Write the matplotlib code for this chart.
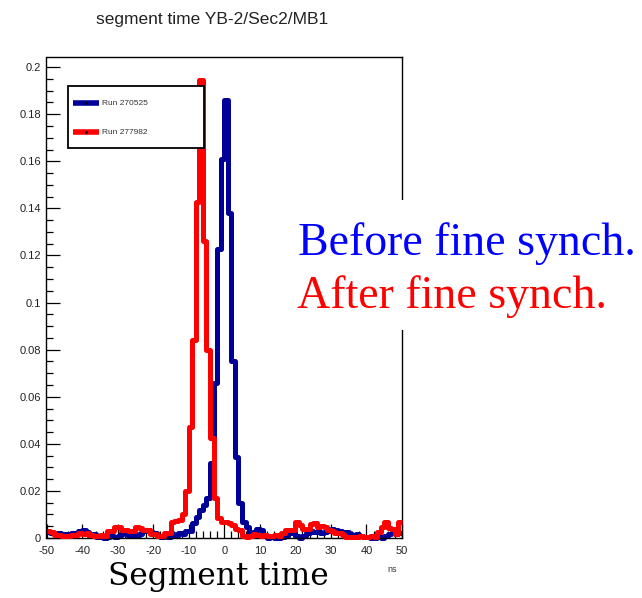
import numpy as np
import matplotlib
matplotlib.use("Agg")
import matplotlib.pyplot as plt
from matplotlib.patches import Rectangle
from matplotlib.ticker import MultipleLocator, FuncFormatter

# ── Histogram contents (segment time, YB-2/Sec2/MB1), 1 ns bins ──────────────
EDGES = np.arange(-50, 51, 1)

RUN_BEFORE = "Run 270525"
RUN_AFTER = "Run 277982"

# before fine synch., bins [-50,-49) ... [49,50)
before = [
    0.0025, 0.0020, 0.0015, 0.0020, 0.0010, 0.0015, 0.0010, 0.0020, 0.0020, 0.0030,   # -50..-41
    0.0035, 0.0025, 0.0010, 0.0015, 0.0005, 0.0010, 0.0000, 0.0005, 0.0010, 0.0005,   # -40..-31
    0.0010, 0.0020, 0.0015, 0.0010, 0.0020, 0.0010, 0.0015, 0.0030, 0.0035, 0.0025,   # -30..-21
    0.0020, 0.0010, 0.0005, 0.0010, 0.0005, 0.0015, 0.0010, 0.0020, 0.0017, 0.0030,   # -20..-11
    0.0030, 0.0065, 0.0090, 0.0120, 0.0140, 0.0170, 0.0320, 0.0660, 0.1226, 0.1610,   # -10..-1
    0.1860, 0.1380, 0.0750, 0.0346, 0.0150, 0.0070, 0.0045, 0.0020, 0.0025, 0.0040,   #   0..9
    0.0035, 0.0010, 0.0000, 0.0005, 0.0000, 0.0000, 0.0005, 0.0010, 0.0020, 0.0025,   #  10..19
    0.0010, 0.0000, 0.0010, 0.0020, 0.0030, 0.0025, 0.0030, 0.0020, 0.0025, 0.0030,   #  20..29
    0.0040, 0.0035, 0.0030, 0.0025, 0.0025, 0.0015, 0.0010, 0.0015, 0.0010, 0.0005,   #  30..39
    0.0005, 0.0000, 0.0000, 0.0005, 0.0000, 0.0010, 0.0015, 0.0020, 0.0015, 0.0020,   #  40..49
]

# after fine synch.
after = [
    0.0030, 0.0025, 0.0012, 0.0013, 0.0008, 0.0010, 0.0008, 0.0013, 0.0012, 0.0020,   # -50..-41
    0.0018, 0.0021, 0.0012, 0.0010, 0.0010, 0.0012, 0.0010, 0.0028, 0.0030, 0.0048,   # -40..-31
    0.0045, 0.0034, 0.0034, 0.0028, 0.0030, 0.0045, 0.0042, 0.0034, 0.0034, 0.0017,   # -30..-21
    0.0017, 0.0007, 0.0009, 0.0020, 0.0020, 0.0068, 0.0072, 0.0075, 0.0100, 0.0200,   # -20..-11
    0.0470, 0.0840, 0.1426, 0.1946, 0.1260, 0.0800, 0.0426, 0.0170, 0.0085, 0.0068,   # -10..-1
    0.0068, 0.0062, 0.0055, 0.0040, 0.0035, 0.0010, 0.0005, 0.0010, 0.0015, 0.0012,   #   0..9
    0.0010, 0.0012, 0.0008, 0.0010, 0.0012, 0.0010, 0.0020, 0.0034, 0.0034, 0.0035,   #  10..19
    0.0070, 0.0055, 0.0040, 0.0040, 0.0060, 0.0065, 0.0048, 0.0050, 0.0045, 0.0034,   #  20..29
    0.0030, 0.0020, 0.0020, 0.0012, 0.0006, 0.0006, 0.0006, 0.0006, 0.0008, 0.0006,   #  30..39
    0.0006, 0.0008, 0.0006, 0.0027, 0.0045, 0.0070, 0.0042, 0.0040, 0.0015, 0.0070,   #  40..49
]

BLUE_H = "#000099"
RED_H = "#ff0000"
LW_H = 3.6

plt.rcParams["axes.unicode_minus"] = False
plt.rcParams["font.family"] = ["Liberation Sans", "DejaVu Sans"]

W, H = 642, 598
fig = plt.figure(figsize=(W / 100, H / 100), dpi=100)
ax = fig.add_axes([46.5 / W, 60 / H, 355.5 / W, 481 / H])

ax.stairs(before, EDGES, baseline=None, color=BLUE_H, lw=LW_H,
          joinstyle="round", clip_on=False, zorder=2)
ax.stairs(after, EDGES, baseline=None, color=RED_H, lw=LW_H,
          joinstyle="round", clip_on=False, zorder=3)

ax.set_xlim(-50, 50)
ax.set_ylim(0, 0.2043)

# ROOT-like axes: inward ticks on left/bottom only
ax.xaxis.set_major_locator(MultipleLocator(10))
ax.xaxis.set_minor_locator(MultipleLocator(2))
ax.yaxis.set_major_locator(MultipleLocator(0.02))
ax.yaxis.set_minor_locator(MultipleLocator(0.005))
fmt = FuncFormatter(lambda v, _: f"{v:g}")
ax.xaxis.set_major_formatter(fmt)
ax.yaxis.set_major_formatter(fmt)
ax.tick_params(which="both", direction="in", top=False, right=False,
               width=0.9, color="black", labelsize=8, labelcolor="#222222")
ax.tick_params(which="major", length=10)
ax.tick_params(which="minor", length=5)
ax.tick_params(axis="x", pad=6)
ax.tick_params(axis="y", pad=4)
for sp in ax.spines.values():
    sp.set_linewidth(1.0)

ax.set_xlabel("ns", loc="right", fontsize=6.5, color="#333333", labelpad=6)
ax.xaxis.label.set_x(0.985)

# legend box
lx0, lx1, ly0, ly1 = 0.0605, 0.443, 0.81, 0.9387
ax.add_patch(Rectangle((lx0, ly0), lx1 - lx0, ly1 - ly0, transform=ax.transAxes,
                       facecolor="white", edgecolor="black", lw=1.3, zorder=5))
for yy, col, name in [(0.9037, BLUE_H, RUN_BEFORE), (0.8435, RED_H, RUN_AFTER)]:
    ax.plot([0.0745, 0.1477], [yy, yy], transform=ax.transAxes, color=col,
            lw=4.0, solid_capstyle="butt", zorder=6)
    ax.plot([0.1111], [yy], transform=ax.transAxes, marker=".", ms=2,
            color="black", zorder=7)
    ax.text(0.1553, yy, name, transform=ax.transAxes, fontsize=6,
            color="#333333", va="center", ha="left", zorder=7)

fig.text(212.5 / W, (H - 24) / H, "segment time YB-2/Sec2/MB1",
         ha="center", va="baseline", fontsize=12.5, color="#222222")

# annotation block over the right edge of the frame
fig.add_artist(Rectangle((290 / W, (H - 330) / H), 1 - 290 / W, 130 / H,
                         transform=fig.transFigure, facecolor="white",
                         edgecolor="none", zorder=3))
fig.text(298 / W, (H - 255) / H, "Before fine synch.", family="Liberation Serif",
         fontsize=33, color="#0000ff", ha="left", va="baseline", zorder=4)
fig.text(297 / W, (H - 308) / H, "After fine synch.", family="Liberation Serif",
         fontsize=33, color="#ff0000", ha="left", va="baseline", zorder=4)
fig.text(218.5 / W, (H - 585) / H, "Segment time", family="DejaVu Serif",
         fontsize=22.5, color="black", ha="center", va="baseline", zorder=4)

fig.savefig("out.png", dpi=100)
